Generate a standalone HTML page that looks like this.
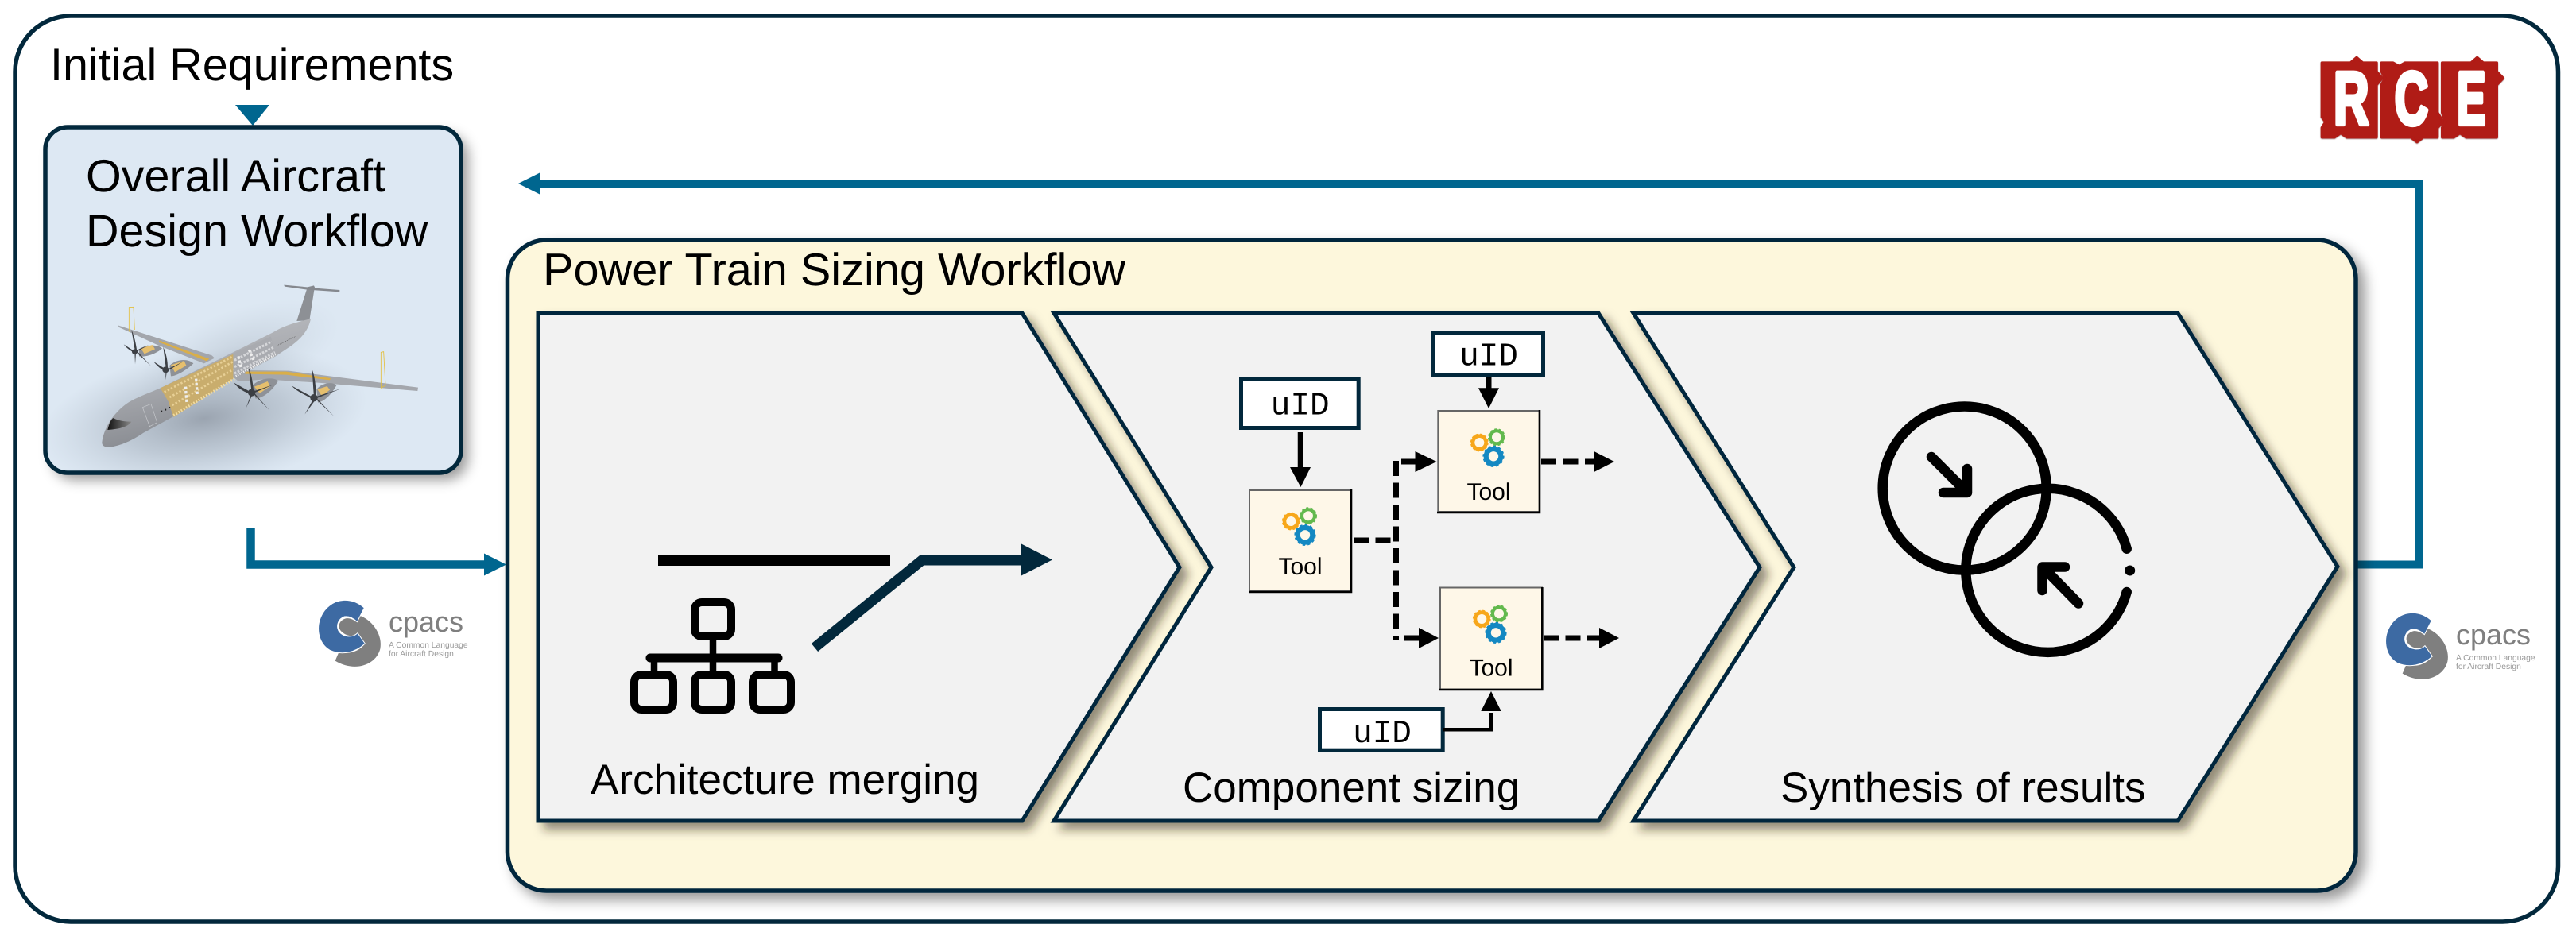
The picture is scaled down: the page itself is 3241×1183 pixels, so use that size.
<!DOCTYPE html>
<html><head><meta charset="utf-8"><title>Workflow</title>
<style>html,body{margin:0;padding:0;background:#fff}svg{display:block}text{font-family:"Liberation Sans",Arial,sans-serif;text-rendering:geometricPrecision}.m{font-family:"Liberation Mono",monospace;font-size:41px;text-anchor:middle}.t{font-size:30px;text-anchor:middle}</style></head><body>
<svg xmlns="http://www.w3.org/2000/svg" width="3241" height="1183" viewBox="0 0 3241 1183">
<defs>
<filter id="s1" x="-5%" y="-5%" width="112%" height="112%"><feDropShadow dx="9" dy="9" stdDeviation="6" flood-color="#2a2410" flood-opacity=".5"/></filter>
<filter id="s2" x="-5%" y="-5%" width="112%" height="112%"><feDropShadow dx="9" dy="9" stdDeviation="8" flood-color="#000" flood-opacity=".4"/></filter>
<filter id="s3" x="-10%" y="-10%" width="125%" height="125%"><feDropShadow dx="0" dy="2" stdDeviation="1.5" flood-color="#400" flood-opacity=".55"/></filter>
<radialGradient id="pg"><stop offset="0" stop-color="#8a939f" stop-opacity=".8"/><stop offset=".5" stop-color="#98a3b0" stop-opacity=".45"/><stop offset="1" stop-color="#a8b4c2" stop-opacity="0"/></radialGradient>
<linearGradient id="fus" x1="0" y1="0" x2=".35" y2="1"><stop offset="0" stop-color="#c2c4c8"/><stop offset=".5" stop-color="#a9abb0"/><stop offset="1" stop-color="#85888e"/></linearGradient>
<linearGradient id="win" x1="0" y1="0" x2="1" y2="0"><stop offset="0" stop-color="#111"/><stop offset="1" stop-color="#8a8a8a"/></linearGradient>
<clipPath id="bc"><rect x="59" y="162" width="519" height="431" rx="26"/></clipPath>
<g id="gears">
<circle cx="53.3" cy="40" r="8.3" fill="none" stroke="#f7a71b" stroke-width="4.6"/><circle cx="53.3" cy="40" r="10.4" fill="none" stroke="#f7a71b" stroke-width="2" stroke-dasharray="3 2.5"/>
<circle cx="75" cy="33.3" r="8" fill="none" stroke="#62b94d" stroke-width="4"/><circle cx="75" cy="33.3" r="10" fill="none" stroke="#62b94d" stroke-width="2" stroke-dasharray="3 2.5"/>
<circle cx="71" cy="57.3" r="9.3" fill="none" stroke="#1488c2" stroke-width="6.2"/><circle cx="71" cy="57.3" r="12.4" fill="none" stroke="#1488c2" stroke-width="2.4" stroke-dasharray="3.4 3"/>
</g>
<g id="cpacslogo">
<path d="M520,405 C570,425 605,480 595,530 C580,590 500,620 425,575 L440,540 C480,555 520,535 538,510 L510,470 C490,490 460,478 445,460 C432,440 445,420 465,415 C480,412 495,420 505,428 Z" fill="#7f7f7f"/>
<path d="M535,375 C490,335 425,335 385,385 C345,440 360,510 405,535 C450,555 500,545 538,510 L510,470 C490,490 455,485 440,465 C425,440 440,415 460,408 C480,405 495,415 508,428 Z" fill="#3d6aa3" stroke="#fff" stroke-width="3"/>
</g>
</defs>

<rect x="19" y="20" width="3199.5" height="1140" rx="70" fill="#fff" stroke="#02283c" stroke-width="5.5"/>

<text x="63" y="101" font-size="57.5">Initial Requirements</text>
<polygon points="296,132 339,132 318,158" fill="#00668f"/>

<!-- Aircraft box -->
<rect x="57" y="160" width="523" height="435" rx="28" fill="#dde8f3" filter="url(#s2)"/>
<g clip-path="url(#bc)">
<g transform="translate(100,340) scale(.33333)">
<ellipse cx="470" cy="560" rx="620" ry="260" fill="url(#pg)" transform="rotate(-8 470 560)"/>
<ellipse cx="600" cy="320" rx="400" ry="170" fill="url(#pg)" opacity=".35" transform="rotate(-20 600 320)"/>
<!-- far wing -->
<polygon points="145,208 300,258 500,322 510,332 470,352 300,285 150,216" fill="#a3a6ac"/>
<polygon points="300,265 490,335 480,343 300,272" fill="#d9ae49"/>
<!-- far nacelles -->
<path d="M225,298 C250,280 300,280 312,296 C290,315 250,330 225,325 Z" fill="#8e9197"/>
<path d="M232,296 L275,282 L285,298 L245,316 Z" fill="#e6bf6d"/>
<path d="M340,360 C365,335 410,332 430,352 C400,380 365,400 345,400 Z" fill="#8e9197"/>
<path d="M345,358 L395,342 L403,360 L360,385 Z" fill="#e6bf6d"/>
<!-- tail -->
<polygon points="820,192 858,72 888,62 868,190" fill="#8d9095"/>
<polygon points="772,56 860,64 885,58 888,68 982,75 982,82 860,74 774,62" fill="#85888e"/>
<!-- near wing -->
<polygon points="583,405 640,378 790,380 1278,443 1276,456 900,425 700,412 600,420" fill="#a4a7ad"/>
<polygon points="625,383 780,383 948,408 945,415 780,395 625,392" fill="#d9ae49"/>
<!-- fuselage -->
<path d="M85,650 C92,600 120,550 170,510 C200,485 260,465 305,445 L580,310 L730,235 C780,205 830,195 873,183 C865,225 840,255 800,285 L740,325 L580,410 L350,555 L240,615 C190,650 130,672 100,667 C90,665 85,660 85,650 Z" fill="url(#fus)"/>
<polygon points="305,445 585,315 580,410 355,555 335,495" fill="#c9ad6d"/>
<polygon points="580,315 722,250 740,315 580,408" fill="#a9abb0"/>
<path d="M340,480 L580,345 M350,510 L580,375 M320,460 L580,325" stroke="#e8d096" stroke-width="8" fill="none" stroke-dasharray="7 7"/>
<path d="M585,340 L725,270 M585,365 L735,290 M585,390 L738,310" stroke="#d6d7da" stroke-width="9" fill="none" stroke-dasharray="8 5"/>
<path d="M355,548 L585,410" stroke="#f2dca0" stroke-width="10" stroke-dasharray="5 6" fill="none"/>
<path d="M590,400 L740,318" stroke="#eeeeee" stroke-width="8" stroke-dasharray="4 4" fill="none"/>
<path d="M400,440 L405,500 M440,410 L445,470 M600,325 L610,370 M640,300 L660,345" stroke="#eee" stroke-width="10" stroke-dasharray="10 6"/>
<path d="M106,603 C112,580 118,565 127,558 C150,570 175,572 196,572 C185,590 155,600 106,603 Z" fill="url(#win)"/>
<path d="M238,518 L270,505 L293,575 L265,590 Z" fill="none" stroke="#c8cace" stroke-width="2"/>
<path d="M310,530 v6 M325,524 v6 M340,516 v6" stroke="#222" stroke-width="5"/>
<path d="M745,285 L820,248" stroke="#555" stroke-width="2" stroke-dasharray="3 3"/>
<!-- near nacelles -->
<path d="M650,440 C670,410 730,400 750,418 C730,450 700,480 665,485 Z" fill="#8e9197"/>
<path d="M660,440 L710,420 L720,438 L680,465 Z" fill="#e6bf6d"/>
<path d="M895,450 C915,425 955,420 970,435 C950,470 925,495 900,500 Z" fill="#8e9197"/>
<path d="M898,450 L935,438 L945,452 L915,475 Z" fill="#e6bf6d"/>
<!-- winglets -->
<path d="M187,232 L187,140 L204,139 L208,225" fill="none" stroke="#e3bf3d" stroke-width="2.5"/>
<path d="M1138,445 L1138,310 L1148,308 L1155,435 Z" fill="none" stroke="#e3bf3d" stroke-width="2.5"/>
<!-- propellers -->
<g fill="#3c3f44">
<path d="M210,308 L196,225 C208,250 213,280 216,300 Z"/><path d="M210,308 L167,280 C180,298 195,303 205,312 Z"/><path d="M210,306 L270,362 L214,302 Z"/><path d="M208,310 L210,355 L213,312 Z"/><path d="M212,304 L262,282 L216,308 Z"/><circle cx="208" cy="308" r="10"/>
<path d="M327,375 L316,290 C328,315 333,345 333,370 Z"/><path d="M327,375 L280,345 C295,365 310,375 322,380 Z"/><path d="M325,375 L325,415 L330,380 Z"/><path d="M330,375 L392,345 L333,380 Z"/><circle cx="325" cy="376" r="12"/>
<path d="M650,462 L638,365 C650,395 655,430 657,455 Z"/><path d="M650,462 L583,425 C600,450 625,460 645,468 Z"/><path d="M650,462 L628,522 L654,468 Z"/><path d="M650,460 L718,530 L655,458 Z"/><path d="M655,458 L732,432 L658,464 Z"/><circle cx="650" cy="462" r="14"/>
<path d="M885,482 L878,375 C890,405 893,450 892,475 Z"/><path d="M885,482 L802,437 C820,460 860,473 880,488 Z"/><path d="M885,482 L850,545 L890,490 Z"/><path d="M885,480 L962,553 L890,478 Z"/><path d="M890,478 L988,447 L893,484 Z"/><circle cx="885" cy="482" r="14"/>
</g>
</g>
</g>
<rect x="57" y="160" width="523" height="435" rx="28" fill="none" stroke="#02283c" stroke-width="5.5"/>
<text x="108" y="241" font-size="57.5">Overall Aircraft</text>
<text x="108" y="310" font-size="57.5">Design Workflow</text>

<!-- feedback arrow -->
<path d="M3044,710.5 V231 H675" fill="none" stroke="#00668f" stroke-width="10"/>
<polygon points="680,217 680,245 652,231" fill="#00668f"/>
<path d="M2964,710.5 H3048.5" stroke="#00668f" stroke-width="10"/>

<!-- Power train box -->
<rect x="638.5" y="302" width="2325.5" height="819" rx="49" fill="#fdf7dc" stroke="#02283c" stroke-width="5.5" filter="url(#s2)"/>

<!-- input arrow -->
<path d="M315.5,665 V710.5 H615" fill="none" stroke="#00668f" stroke-width="10.5"/>
<polygon points="609,696.5 609,724.5 637,710.5" fill="#00668f"/>

<text x="683" y="359" font-size="57.7">Power Train Sizing Workflow</text>

<!-- chevrons -->
<polygon points="677,394 1286,394 1484,714 1286,1033 677,1033" fill="#f2f2f2" stroke="#02283c" stroke-width="5" filter="url(#s1)"/>
<polygon points="1326,394 2011,394 2214,714 2011,1033 1326,1033 1524,714" fill="#f2f2f2" stroke="#02283c" stroke-width="5" filter="url(#s1)"/>
<polygon points="2055,394 2740,394 2941,713 2740,1033 2055,1033 2257,714" fill="#f2f2f2" stroke="#02283c" stroke-width="5" filter="url(#s1)"/>

<!-- Chevron 1 content -->
<rect x="828" y="699" width="292" height="13" fill="#000"/>
<polyline points="1025,815 1160,705 1290,705" fill="none" stroke="#02283c" stroke-width="13"/>
<polygon points="1285,684.5 1285,724.5 1324,704.5" fill="#02283c"/>
<g fill="none" stroke="#000" stroke-width="10">
<rect x="874" y="758" width="46" height="43" rx="9"/>
<rect x="798" y="849" width="49" height="44" rx="9"/>
<rect x="874" y="849" width="46" height="44" rx="9"/>
<rect x="947" y="849" width="48" height="44" rx="9"/>
</g>
<path d="M897,806 V845 M823,828 V845 M974.5,828 V845" stroke="#000" stroke-width="8.5"/>
<path d="M818,828 H979" stroke="#000" stroke-width="11" stroke-linecap="round"/>
<text x="743" y="999" font-size="53">Architecture merging</text>

<!-- Chevron 2 content -->
<g fill="#fff" stroke="#02283c" stroke-width="5">
<rect x="1561.5" y="477.5" width="147.7" height="61"/>
<rect x="1803.5" y="418.5" width="138" height="53"/>
<rect x="1660.5" y="892.5" width="154.7" height="51.7"/>
</g>
<text x="1635.7" y="521.7" class="m">uID</text>
<text x="1873" y="459.3" class="m">uID</text>
<text x="1739" y="934" class="m">uID</text>

<!-- Tool boxes -->
<g fill="#fef7e8" stroke="#666" stroke-width="2">
<rect x="1572" y="617" width="128" height="127"/>
<rect x="1809.3" y="517" width="127.5" height="127"/>
<rect x="1812" y="739.5" width="128" height="128"/>
</g>
<path d="M1700,616 V745 H1571 M1937,516 V645 H1808 M1940.3,739 V868 H1811" fill="none" stroke="#000" stroke-width="2.6"/>
<use href="#gears" x="1571" y="616"/>
<use href="#gears" x="1808" y="517"/>
<use href="#gears" x="1811" y="739"/>
<text x="1636" y="723" class="t">Tool</text>
<text x="1873" y="629" class="t">Tool</text>
<text x="1876" y="850.5" class="t">Tool</text>

<path d="M1636,544 V590" stroke="#000" stroke-width="6.5"/><polygon points="1623,588 1649,588 1636.5,613" fill="#000"/>
<path d="M1873,474 V490" stroke="#000" stroke-width="7"/><polygon points="1860,488.3 1886,488.3 1873,514" fill="#000"/>
<path d="M1816,918.3 H1876 V897" fill="none" stroke="#000" stroke-width="4.5"/><polygon points="1863.3,895 1888.7,895 1876,870" fill="#000"/>

<g fill="none" stroke="#000" stroke-width="7" stroke-dasharray="19 8.5">
<path d="M1703,680 H1755"/>
<path d="M1939,581 H2006"/>
<path d="M1942,803 H2012"/>
</g>
<path d="M1756.5,580 V806" fill="none" stroke="#000" stroke-width="7" stroke-dasharray="19 8.5"/>
<path d="M1763,581 H1782 M1767,803 H1787" fill="none" stroke="#000" stroke-width="7"/>
<polygon points="1780.5,568 1780.5,594 1807.5,581" fill="#000"/>
<polygon points="1785,790 1785,816 1810,803" fill="#000"/>
<polygon points="2005.5,568 2005.5,594 2031,581" fill="#000"/>
<polygon points="2012,790 2012,816 2037,803" fill="#000"/>
<text x="1488" y="1009" font-size="53">Component sizing</text>

<!-- Chevron 3 content -->
<g fill="none" stroke="#000" stroke-width="12.5" stroke-linecap="round" stroke-linejoin="round">
<circle cx="2471.7" cy="614.5" r="103"/>
<path d="M2675.7,690.7 A103,103 0 1 0 2675.7,745"/>
<path d="M2430,575 L2475,620 M2445,620 H2475 V590"/>
<path d="M2615,759.5 L2570,713.5 M2598,713.5 H2569.5 V743"/>
</g>
<circle cx="2679.7" cy="718" r="6.5" fill="#000"/>
<text x="2240" y="1009" font-size="53">Synthesis of results</text>

<!-- CPACS left -->
<use href="#cpacslogo" transform="translate(280,640) scale(.33333)"/>
<text x="489" y="795" font-size="36" fill="#7f7f7f">cpacs</text>
<text x="489" y="815" font-size="10.3" fill="#9a9a9a">A Common Language</text>
<text x="489" y="826" font-size="10.3" fill="#9a9a9a">for Aircraft Design</text>
<!-- CPACS right -->
<use href="#cpacslogo" transform="translate(2881,656) scale(.33333)"/>
<text x="3090" y="811" font-size="36" fill="#7f7f7f">cpacs</text>
<text x="3090" y="831" font-size="10.3" fill="#9a9a9a">A Common Language</text>
<text x="3090" y="842" font-size="10.3" fill="#9a9a9a">for Aircraft Design</text>

<!-- RCE logo -->
<g transform="translate(2850,40) scale(.33333)">
<g fill="#b01a17" stroke="#b01a17" stroke-width="10" stroke-linejoin="round" filter="url(#s3)">
<path d="M214,117 H322 L345,97 L368,117 H420 V150 L442,175 L420,200 V398 H308 L285,382 L262,398 H214 V362 L228,340 L214,322 Z"/>
<path d="M439,117 H482 L505,130 L528,117 H650 V305 L672,340 L650,362 V398 H596 L573,416 L550,398 H439 V200 L452,175 L439,150 Z"/>
<path d="M668,117 H777 L800,97 L823,117 H874 V150 L898,175 L874,200 V398 H758 L735,382 L712,398 H668 V362 L680,340 L668,305 Z"/>
</g>
<g fill="#fff" stroke="#fff" stroke-width="16" stroke-linejoin="round" font-weight="bold" font-size="284">
<text x="258" y="350" textLength="134" lengthAdjust="spacingAndGlyphs">R</text>
<text x="488" y="350" textLength="128" lengthAdjust="spacingAndGlyphs">C</text>
<text x="723" y="350" textLength="110" lengthAdjust="spacingAndGlyphs">E</text>
</g>
</g>
</svg>
</body></html>
